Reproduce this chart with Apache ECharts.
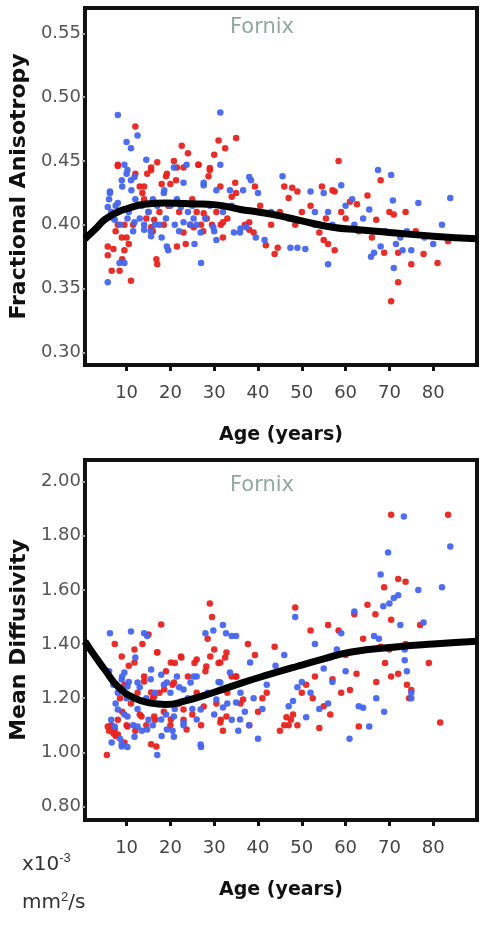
<!DOCTYPE html>
<html>
<head>
<meta charset="utf-8">
<script src="https://cdn.jsdelivr.net/npm/echarts@6/dist/echarts.min.js"></script>
<style>
  body { margin: 0; background: #fff; }
  #chart { width: 483px; height: 931px; }
</style>
</head>
<body>
<div id="chart"></div>
<script>
// x ticks (age) shared by both panels
var ageTicks = [10, 20, 30, 40, 50, 60, 70, 80];
var faTicks = [0.30, 0.35, 0.40, 0.45, 0.50, 0.55];
var mdTicks = [0.80, 1.00, 1.20, 1.40, 1.60, 1.80, 2.00];

// Fractional anisotropy, [age, FA]
var faRed = [[5.7,0.376],[6.6,0.364],[7,0.381],[7.5,0.395],[8,0.446],[8.4,0.364],[9,0.373],[9.5,0.40],[10,0.39],[10.5,0.385],[11,0.356],[11.5,0.40],[12,0.477],[12,0.44],[13,0.43],[13.6,0.425],[14,0.42],[14.5,0.405],[15,0.41],[15.6,0.443],[16,0.395],[17,0.449],[17,0.369],[17.5,0.41],[18,0.432],[18.5,0.40],[19,0.438],[19.5,0.415],[20,0.432],[20.8,0.45],[21.5,0.445],[22,0.41],[22.6,0.462],[23,0.445],[23.5,0.385],[24,0.456],[24.5,0.40],[25,0.42],[26,0.41],[26.4,0.447],[27,0.40],[27.5,0.395],[28,0.405],[28.7,0.438],[29,0.443],[29.5,0.40],[30,0.455],[30.5,0.41],[31,0.466],[31.5,0.40],[32,0.39],[32.5,0.46],[33,0.405],[34,0.422],[35,0.468],[37,0.40],[38,0.396],[39,0.394],[39.3,0.43],[40.5,0.415],[41.8,0.384],[43,0.40],[43.8,0.377],[44.5,0.382],[45,0.41],[46,0.43],[47,0.405],[47,0.421],[47.8,0.429],[48.5,0.40],[49,0.426],[50,0.41],[52,0.415],[53,0.40],[54,0.394],[54.6,0.43],[55,0.388],[55.5,0.405],[56,0.385],[57,0.427],[57.5,0.426],[57.5,0.38],[58.4,0.45],[59,0.41],[60,0.405],[61,0.418],[62.6,0.416],[63,0.395],[65,0.423],[66,0.39],[67,0.404],[68,0.435],[68.8,0.378],[70,0.41],[70.4,0.34],[71,0.408],[72,0.378],[72,0.355],[73.7,0.41],[75,0.369],[76,0.395],[77.8,0.377],[81,0.37],[83.4,0.387],
  [8,0.447],[14.7,0.44],[14,0.43],[15.6,0.445],[19.2,0.44],[21.3,0.435],[26.4,0.447],[29,0.4445],[31.4,0.43],[34.8,0.433],[35,0.425],[16.3,0.404],[15.6,0.398],[8,0.40],[8.9,0.39],[5.7,0.383],[9.5,0.38],[21.5,0.383],[27.6,0.409],[28.3,0.405],[25.3,0.398],[32,0.402],[38,0.402],[16.8,0.373],[23,0.394]];
var faBlue = [[5.7,0.355],[6,0.42],[6.2,0.425],[6.5,0.41],[7,0.405],[7.5,0.415],[8,0.486],[8.4,0.37],[8.5,0.40],[9,0.43],[9.5,0.447],[9.5,0.37],[10,0.465],[10,0.44],[10.5,0.41],[11,0.435],[11,0.46],[11.5,0.395],[12,0.42],[12.5,0.47],[13,0.405],[13.5,0.415],[14,0.40],[14.5,0.451],[15,0.41],[15.5,0.395],[16,0.42],[16.5,0.40],[17,0.415],[17.5,0.40],[18,0.39],[18.5,0.425],[19,0.405],[19.5,0.38],[20,0.415],[21,0.40],[21.5,0.42],[22,0.395],[23,0.433],[23.7,0.447],[24,0.41],[24.5,0.40],[25,0.415],[25.5,0.385],[26,0.40],[27,0.37],[27.6,0.431],[28,0.405],[29,0.415],[30,0.395],[30.5,0.427],[31.4,0.488],[31.4,0.447],[32,0.41],[33.6,0.427],[34,0.415],[34.5,0.394],[36,0.397],[36.6,0.427],[38.4,0.435],[39.5,0.39],[40,0.425],[41.5,0.388],[43,0.41],[45.6,0.438],[47.4,0.382],[49,0.382],[50.8,0.381],[52,0.426],[53,0.41],[54,0.40],[55,0.425],[56,0.41],[56,0.369],[57,0.40],[59,0.431],[60,0.415],[61.5,0.42],[62,0.40],[64,0.405],[65.4,0.412],[65.8,0.375],[66.5,0.378],[67.4,0.443],[68,0.383],[69,0.395],[70.4,0.439],[70.8,0.419],[71,0.366],[71.5,0.385],[72.5,0.39],[73,0.38],[74,0.395],[75,0.38],[76.6,0.417],[78,0.39],[80,0.385],[82,0.40],[83.9,0.421],
  [6.2,0.426],[8.9,0.435],[10.2,0.443],[11.8,0.4375],[8,0.417],[11.1,0.427],[5.7,0.414],[7.3,0.404],[10.2,0.405],[11.8,0.402],[14,0.396],[15.6,0.391],[19.2,0.383],[25.3,0.405],[26.9,0.394],[29.8,0.398],[30.5,0.388],[27.6,0.433],[20.8,0.445],[18.6,0.427],[22.4,0.414],[23,0.402],[35.9,0.394],[37.3,0.398],[38,0.4375]];
var faFit = [[0.5,0.389],[3,0.397],[5,0.404],[8,0.41],[10,0.4125],[14,0.416],[19,0.417],[25,0.4165],[30.5,0.4156],[36,0.412],[40,0.41],[45,0.407],[50,0.403],[57,0.398],[63,0.396],[70,0.394],[80,0.391],[90,0.389]];

// Mean diffusivity (x10-3 mm2/s), [age, MD]
var mdRed = [[5.5,0.99],[6,1.08],[6.5,1.10],[7,1.07],[7.3,1.40],[7.5,1.06],[8,1.12],[8.5,1.20],[9,1.15],[9.5,1.25],[10,1.10],[10.5,1.32],[11,1.18],[11.8,1.38],[12,1.08],[12.5,1.22],[13,1.14],[13.6,1.40],[14,1.28],[14.5,1.10],[15,1.435],[15.6,1.03],[16,1.20],[16.5,1.12],[17,1.37],[17.5,1.22],[17.9,1.472],[18.5,1.15],[19,1.30],[20,1.10],[20.5,1.25],[21,1.33],[22,1.18],[22.5,1.35],[23,1.12],[24,1.28],[25,1.14],[25.5,1.33],[26,1.22],[27,1.10],[28,1.30],[28.5,1.42],[29,1.55],[29.5,1.50],[30,1.38],[30.5,1.18],[31,1.33],[31.5,1.12],[32,1.08],[32.5,1.35],[33,1.22],[34,1.28],[35,1.28],[36,1.18],[37.7,1.40],[38,1.10],[39.3,1.36],[40,1.15],[41,1.20],[42,1.22],[43.8,1.39],[45,1.08],[46,1.10],[46.5,1.13],[47,1.10],[47.5,1.12],[48,1.14],[48.5,1.535],[49,1.10],[50,1.22],[51,1.25],[52,1.45],[52.5,1.20],[53,1.28],[54,1.09],[55,1.17],[56,1.47],[56.5,1.14],[57,1.27],[58.4,1.45],[59,1.22],[60,1.36],[61,1.23],[62,1.51],[62.5,1.29],[63,1.095],[64,1.42],[65,1.545],[66.8,1.51],[67,1.26],[68,1.39],[68.8,1.61],[69,1.33],[70,1.38],[70.4,1.878],[70.4,1.49],[70.4,1.28],[72,1.29],[72,1.64],[73.7,1.40],[73.7,1.63],[74,1.25],[74.5,1.20],[75,1.23],[77,1.47],[79,1.33],[81.6,1.11],[83.4,1.878],
  [8.9,1.354],[11.8,1.332],[17,1.369],[20.1,1.332],[22.4,1.354],[26,1.343],[28.2,1.317],[29.1,1.354],[31.4,1.332],[32.8,1.369],[15.6,1.221],[16.3,1.206],[14,1.262],[18.6,1.232],[20.8,1.258],[5.7,1.095],[7.3,1.084],[8,1.066],[10.2,1.095],[13.4,1.132],[16.3,1.132],[20.1,1.121],[23,1.158],[23.7,1.084],[27.6,1.169],[31.4,1.11],[32.8,1.132],[35,1.28],[36.6,1.195],[16.8,1.022],[9.5,1.036]];
var mdBlue = [[6,1.30],[6.2,1.44],[6.5,1.12],[7,1.25],[7.5,1.18],[8,1.22],[8.5,1.05],[8.9,1.03],[9,1.28],[9.5,1.14],[10,1.20],[10.2,1.02],[10.5,1.26],[11,1.446],[11.5,1.10],[12,1.35],[12.5,1.16],[13,1.24],[13.5,1.08],[14,1.44],[14.5,1.20],[14.7,1.43],[15,1.12],[15.5,1.27],[16,1.10],[16.5,1.22],[17,0.99],[17.5,1.18],[18,1.06],[18.5,1.25],[19,1.14],[20,1.22],[20.5,1.08],[21,1.16],[22,1.24],[23,1.10],[24,1.20],[25,1.16],[26,1.28],[27,1.02],[28,1.44],[28.5,1.22],[29.8,1.45],[30,1.14],[31,1.26],[32,1.47],[32.7,1.44],[33,1.18],[34,1.43],[34,1.12],[35,1.43],[35.5,1.08],[36,1.22],[37,1.15],[38,1.10],[39,1.20],[40,1.05],[41,1.16],[42,1.25],[44,1.32],[46,1.36],[47,1.17],[48,1.19],[48.5,1.50],[49,1.24],[50,1.26],[51,1.13],[52,1.22],[53,1.40],[54,1.16],[55,1.31],[56,1.18],[57,1.26],[58,1.38],[59,1.44],[60,1.30],[60.9,1.05],[62,1.52],[63,1.17],[64,1.165],[65.4,1.095],[66.5,1.43],[67,1.20],[67.6,1.42],[68,1.657],[68.6,1.54],[68.8,1.15],[69.7,1.738],[70,1.55],[71,1.57],[72,1.58],[72.5,1.47],[73.3,1.871],[73.5,1.38],[73.5,1.34],[74,1.30],[75,1.22],[75,1.20],[76.6,1.60],[77.8,1.48],[82,1.61],[83.9,1.76],
  [8.9,1.269],[10.2,1.243],[9.5,1.295],[12.5,1.258],[15.6,1.306],[17.9,1.287],[19.2,1.258],[21.5,1.28],[25.3,1.28],[23,1.232],[24.6,1.258],[8,1.158],[10.2,1.132],[12.5,1.095],[7.3,1.095],[11.8,1.058],[14.7,1.084],[17.9,1.121],[19.2,1.084],[20.8,1.132],[23,1.11],[26,1.121],[20.8,1.058],[26.9,1.158],[30.5,1.195],[32,1.166],[35,1.184],[35.9,1.121],[38.2,1.332],[31.4,1.258],[33.6,1.295],[6.6,1.036],[8.9,1.022],[26.9,1.029]];
var mdFit = [[0.5,1.41],[3,1.35],[5,1.306],[8,1.243],[11.8,1.20],[15.6,1.182],[19,1.177],[23,1.188],[30,1.222],[36,1.255],[42,1.285],[49,1.318],[55,1.345],[61,1.37],[72,1.39],[80,1.40],[90,1.41]];

var RED = "#e8221e";
var BLUE = "#4466ee";
var FONT = "DejaVu Sans";

function xAxisFor(idx) {
  return {
    gridIndex: idx,
    type: "value",
    min: 0.5,
    max: 90,
    name: "Age (years)",
    nameLocation: "middle",
    nameGap: 61,
    nameTextStyle: { fontFamily: FONT, fontWeight: "bold", fontSize: 19, color: "#111" },
    axisLine: { show: false },
    axisTick: { show: true, customValues: ageTicks, length: 6, lineStyle: { color: "#111", width: 3 } },
    axisLabel: { customValues: ageTicks, margin: 19, fontFamily: FONT, fontSize: 18, color: "#444" },
    splitLine: { show: false }
  };
}

function yAxisFor(idx, name, min, max, ticks) {
  return {
    gridIndex: idx,
    type: "value",
    min: min,
    max: max,
    name: name,
    nameLocation: "middle",
    nameGap: 54,
    nameTextStyle: { fontFamily: FONT, fontWeight: "bold", fontSize: 22, color: "#111" },
    axisLine: { show: false },
    axisTick: { show: true, customValues: ticks, length: 3, lineStyle: { color: "#aaa", width: 2 } },
    axisLabel: {
      customValues: ticks, margin: 4, fontFamily: FONT, fontSize: 18, color: "#555",
      formatter: function (v) { return v.toFixed(2); }
    },
    splitLine: { show: false }
  };
}

function dots(data, color, idx) {
  return {
    type: "scatter", xAxisIndex: idx, yAxisIndex: idx, data: data,
    symbolSize: 6.5, itemStyle: { color: color, opacity: 0.95 }, z: 2
  };
}

function fit(data, idx) {
  return {
    type: "line", xAxisIndex: idx, yAxisIndex: idx, data: data,
    smooth: true, showSymbol: false, lineStyle: { color: "#000", width: 7 }, z: 5
  };
}

var myChart = echarts.init(document.getElementById("chart"));
myChart.setOption({
  animation: false,
  backgroundColor: "#fff",
  title: [
    { text: "Fornix", left: 257, top: 12, textAlign: "center",
      textStyle: { fontFamily: FONT, fontWeight: "normal", fontSize: 21, color: "#8fa9a2" } },
    { text: "Fornix", left: 257, top: 470, textAlign: "center",
      textStyle: { fontFamily: FONT, fontWeight: "normal", fontSize: 21, color: "#8fa9a2" } }
  ],
  grid: [
    { left: 80, right: 6, top: 8, height: 357, show: true, borderColor: "#111", borderWidth: 4, backgroundColor: "#fff" },
    { left: 80, right: 6, top: 460, height: 360, show: true, borderColor: "#111", borderWidth: 4, backgroundColor: "#fff" }
  ],
  xAxis: [xAxisFor(0), xAxisFor(1)],
  yAxis: [
    yAxisFor(0, "Fractional Anisotropy", 0.29, 0.57, faTicks),
    yAxisFor(1, "Mean Diffusivity", 0.75, 2.08, mdTicks)
  ],
  graphic: [
    {
      type: "text", left: 22, top: 852,
      style: {
        text: "x10{sup|-3}", fontFamily: FONT, fontSize: 20, fill: "#333",
        rich: { sup: { fontSize: 13, verticalAlign: "top", padding: [0, 0, 12, 0] } }
      }
    },
    {
      type: "text", left: 22, top: 891,
      style: {
        text: "mm{sup|2}/s", fontFamily: FONT, fontSize: 20, fill: "#333",
        rich: { sup: { fontSize: 13, padding: [0, 0, 10, 0] } }
      }
    }
  ],
  series: [
    dots(faRed, RED, 0), dots(faBlue, BLUE, 0), fit(faFit, 0),
    dots(mdRed, RED, 1), dots(mdBlue, BLUE, 1), fit(mdFit, 1)
  ]
});
</script>
</body>
</html>
